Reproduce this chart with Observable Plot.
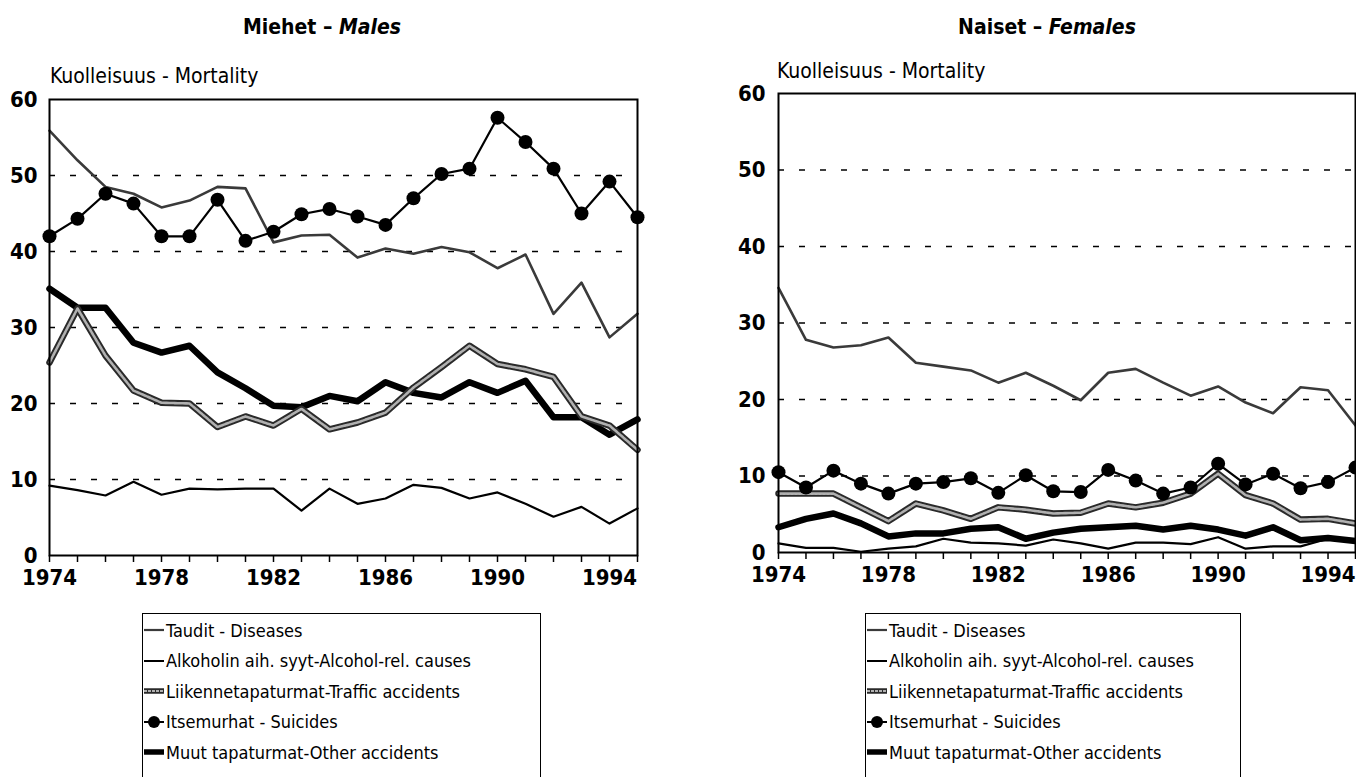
<!DOCTYPE html>
<html>
<head>
<meta charset="utf-8">
<script src="https://cdn.jsdelivr.net/npm/d3@7"></script>
<script src="https://cdn.jsdelivr.net/npm/@observablehq/plot@0.6"></script>
<style>
  html, body { margin: 0; padding: 0; background: #fff; overflow: hidden; }
  body { width: 1356px; height: 777px; position: relative; font-family: "Liberation Sans Narrow", "DejaVu Sans Condensed", "Liberation Sans", sans-serif; color: #000; }
  .abs { position: absolute; }
  .title { font-weight: bold; font-size: 21px; white-space: nowrap; transform: translateX(-50%); }
  .ylab { font-size: 21px; white-space: nowrap; }
  .legend { border: 1.5px solid #000; background: #fff; box-sizing: border-box; }
  .legend .row { height: 30.5px; display: flex; align-items: center; font-size: 18px; white-space: nowrap; }
  .legend svg { flex: none; margin-right: 1px; }
</style>
</head>
<body>
<script>
// ---------- data ----------
const years = [1974,1975,1976,1977,1978,1979,1980,1981,1982,1983,1984,1985,1986,1987,1988,1989,1990,1991,1992,1993,1994,1995];
const yTicks = [0,10,20,30,40,50,60];
const gridValues = [10,20,30,40,50];
const xLabelYears = [1974,1978,1982,1986,1990,1994];

const seriesNames = [
  "Taudit - Diseases",
  "Alkoholin aih. syyt-Alcohol-rel. causes",
  "Liikennetapaturmat-Traffic accidents",
  "Itsemurhat - Suicides",
  "Muut tapaturmat-Other accidents"
];

const malesDiseases = [55.9,52.0,48.5,47.6,45.8,46.7,48.5,48.3,41.2,42.1,42.2,39.2,40.4,39.7,40.6,39.9,37.8,39.6,31.8,35.9,28.7,31.8];
const malesAlcohol  = [9.2,8.6,7.9,9.7,8.0,8.8,8.7,8.8,8.8,5.9,8.8,6.8,7.5,9.3,8.9,7.5,8.3,6.8,5.1,6.4,4.2,6.2];
const malesTraffic  = [25.4,32.5,26.3,21.7,20.1,20.0,16.9,18.3,17.1,19.3,16.6,17.5,18.8,22.1,24.8,27.6,25.2,24.5,23.5,18.3,17.1,13.9];
const malesSuicides = [42.0,44.3,47.6,46.3,42.0,42.0,46.8,41.4,42.6,44.9,45.6,44.6,43.5,47.0,50.2,50.9,57.6,54.4,50.9,45.0,49.2,44.5];
const malesOther    = [35.1,32.6,32.6,28.0,26.7,27.6,24.1,22.0,19.7,19.5,21.0,20.3,22.8,21.4,20.8,22.8,21.4,23.0,18.2,18.2,15.9,17.9];

const femalesDiseases = [34.6,27.8,26.8,27.1,28.1,24.8,24.3,23.8,22.2,23.5,21.8,19.9,23.5,24.0,22.2,20.5,21.7,19.6,18.2,21.6,21.2,16.6];
const femalesAlcohol  = [1.2,0.6,0.6,0.1,0.5,0.8,1.8,1.3,1.2,0.9,1.7,1.2,0.5,1.3,1.3,1.1,2.0,0.5,0.8,0.8,1.8,1.6];
const femalesTraffic  = [7.7,7.7,7.7,5.9,4.1,6.4,5.5,4.4,5.9,5.6,5.1,5.2,6.4,5.9,6.5,7.7,10.3,7.5,6.4,4.3,4.4,3.8];
const femalesSuicides = [10.5,8.5,10.7,9.0,7.7,9.0,9.2,9.7,7.8,10.1,8.0,7.9,10.8,9.4,7.7,8.5,11.6,8.9,10.3,8.4,9.2,11.1];
const femalesOther    = [3.3,4.4,5.1,3.8,2.1,2.5,2.5,3.1,3.3,1.8,2.6,3.1,3.3,3.5,3.0,3.5,3.0,2.2,3.3,1.6,1.9,1.5];

// ---------- helpers ----------
const toRows = (vals) => years.map((year, i) => ({year, value: vals[i]}));

function makeChart(d, opts) {
  const lineOpts = {x: "year", y: "value"};
  return Plot.plot({
    width: opts.width,
    height: opts.height,
    marginTop: opts.marginTop,
    marginBottom: 40,
    marginLeft: opts.marginLeft,
    marginRight: opts.marginRight,
    style: {fontFamily: '"Liberation Sans Narrow", "DejaVu Sans Condensed", sans-serif', fontSize: "22px", fontWeight: "bold", background: "transparent", overflow: "visible"},
    x: {domain: [1974, 1995], label: null},
    y: {domain: [0, 60], label: null},
    marks: [
      Plot.ruleY(gridValues, {stroke: "#000", strokeWidth: 1.6, strokeDasharray: "6,15"}),
      Plot.line(toRows(d.diseases), {...lineOpts, stroke: "#3a3a3a", strokeWidth: 2.6}),
      Plot.line(toRows(d.alcohol), {...lineOpts, stroke: "#000", strokeWidth: 2.2}),
      Plot.line(toRows(d.other), {...lineOpts, stroke: "#000", strokeWidth: 6.5}),
      Plot.line(toRows(d.traffic), {...lineOpts, stroke: "#2a2a2a", strokeWidth: 6.5}),
      Plot.line(toRows(d.traffic), {...lineOpts, stroke: "#b0b0b0", strokeWidth: 2.6, strokeDasharray: "3,1"}),
      Plot.line(toRows(d.suicides), {...lineOpts, stroke: "#000", strokeWidth: 2.2}),
      Plot.dot(toRows(d.suicides), {...lineOpts, r: 7, fill: "#000", stroke: "none"}),
      Plot.frame({stroke: "#000", strokeWidth: 2}),
      Plot.axisY({ticks: yTicks, tickSize: 0, tickPadding: opts.yPad, tickFormat: d3.format("d"), label: null}),
      Plot.axisX({ticks: years, tickSize: 7, tickPadding: 7, strokeWidth: 1.5, label: null,
                  tickFormat: (y) => xLabelYears.includes(y) ? String(y) : ""})
    ]
  });
}

function place(el, left, top) {
  el.style.position = "absolute";
  el.style.left = left + "px";
  el.style.top = top + "px";
  document.body.appendChild(el);
}

function addDiv(cls, html, left, top) {
  const el = document.createElement("div");
  el.className = "abs " + cls;
  el.innerHTML = html;
  el.style.left = left + "px";
  el.style.top = top + "px";
  document.body.appendChild(el);
  return el;
}

// ---------- charts ----------
const males = makeChart(
  {diseases: malesDiseases, alcohol: malesAlcohol, traffic: malesTraffic, suicides: malesSuicides, other: malesOther},
  {width: 660, height: 510, marginTop: 14, marginLeft: 49, marginRight: 23, yPad: 12}
);
place(males, 0, 85);

const females = makeChart(
  {diseases: femalesDiseases, alcohol: femalesAlcohol, traffic: femalesTraffic, suicides: femalesSuicides, other: femalesOther},
  {width: 666, height: 512, marginTop: 13, marginLeft: 88, marginRight: 1, yPad: 13}
);
place(females, 690, 80);

// ---------- titles ----------
addDiv("title", 'Miehet – <i>Males</i>', 322, 15);
addDiv("title", 'Naiset – <i>Females</i>', 1047, 15);
addDiv("ylab", 'Kuolleisuus - Mortality', 50, 64);
addDiv("ylab", 'Kuolleisuus - Mortality', 777, 59);

// ---------- legends ----------
function symbol(i) {
  const ns = "http://www.w3.org/2000/svg";
  const s = document.createElementNS(ns, "svg");
  s.setAttribute("width", 22); s.setAttribute("height", 16);
  const ln = (w, c, dash) => {
    const l = document.createElementNS(ns, "line");
    l.setAttribute("x1", 1); l.setAttribute("x2", 21); l.setAttribute("y1", 8); l.setAttribute("y2", 8);
    l.setAttribute("stroke", c); l.setAttribute("stroke-width", w);
    if (dash) l.setAttribute("stroke-dasharray", dash);
    s.appendChild(l);
  };
  if (i === 0) ln(2.2, "#3a3a3a");
  if (i === 1) ln(2, "#000");
  if (i === 2) { ln(5.5, "#2a2a2a"); ln(2.2, "#b0b0b0", "3,1"); }
  if (i === 3) {
    ln(2, "#000");
    const c = document.createElementNS(ns, "circle");
    c.setAttribute("cx", 11); c.setAttribute("cy", 8); c.setAttribute("r", 6); c.setAttribute("fill", "#000");
    s.appendChild(c);
  }
  if (i === 4) ln(5.5, "#000");
  return s;
}

function legend(left, top, width) {
  const box = document.createElement("div");
  box.className = "abs legend";
  box.style.left = left + "px"; box.style.top = top + "px";
  box.style.width = width + "px"; box.style.height = "200px";
  box.style.paddingTop = "1px";
  seriesNames.forEach((name, i) => {
    const row = document.createElement("div");
    row.className = "row";
    row.appendChild(symbol(i));
    const t = document.createElement("span");
    t.textContent = name;
    row.appendChild(t);
    box.appendChild(row);
  });
  document.body.appendChild(box);
}
legend(142, 613, 399);
legend(865, 613, 376);
</script>
</body>
</html>
